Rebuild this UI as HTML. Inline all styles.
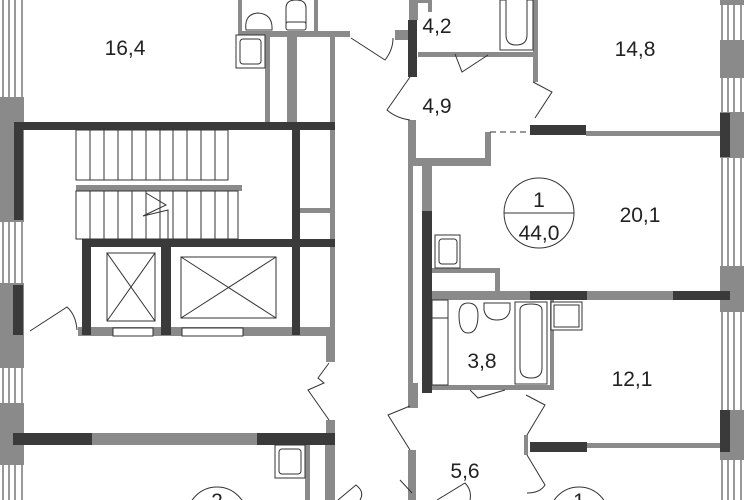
<!DOCTYPE html>
<html><head><meta charset="utf-8"><style>
html,body{margin:0;padding:0;background:#fff;width:744px;height:500px;overflow:hidden}
svg{display:block;overflow:hidden}
text{font-family:"Liberation Sans",sans-serif;fill:#222}
</style></head><body>
<svg width="744" height="500" viewBox="0 0 744 500" xmlns="http://www.w3.org/2000/svg">
<g fill="none" stroke="#333" stroke-width="1">
<line x1="3" y1="0" x2="3" y2="500"/><line x1="9" y1="0" x2="9" y2="500"/><line x1="15" y1="0" x2="15" y2="500"/><line x1="22" y1="0" x2="22" y2="500"/>
<line x1="722" y1="0" x2="722" y2="500"/><line x1="728" y1="0" x2="728" y2="500"/><line x1="734" y1="0" x2="734" y2="500"/><line x1="741" y1="0" x2="741" y2="500"/>
</g>
<g fill="#8a8a8a">
<rect x="0" y="97" width="24" height="125"/>
<rect x="0" y="283" width="24" height="85"/>
<rect x="0" y="403" width="24" height="62"/>
<rect x="720" y="0" width="24" height="5"/>
<rect x="720" y="40" width="24" height="38"/>
<rect x="720" y="112" width="24" height="46"/>
<rect x="720" y="266" width="24" height="46"/>
<rect x="720" y="410" width="24" height="50"/>
<rect x="238" y="0" width="4" height="33"/><rect x="314" y="0" width="4" height="33"/>
<rect x="238" y="31" width="112" height="6"/>
<rect x="265" y="37" width="5" height="85"/><rect x="287" y="37" width="10" height="85"/><rect x="330" y="37" width="5" height="85"/>
<rect x="395" y="30" width="15" height="10"/>
<rect x="330" y="130" width="5" height="205"/>
<rect x="300" y="208" width="35" height="5"/>
<rect x="78" y="327" width="257" height="9"/>
<rect x="326" y="336" width="9" height="26"/>
<rect x="326" y="420" width="9" height="14"/>
<rect x="92" y="433" width="165" height="12"/>
<rect x="305" y="445" width="5" height="55"/><rect x="325" y="445" width="10" height="55"/>
<rect x="76" y="185" width="166" height="6"/>
<rect x="409" y="0" width="9" height="20"/>
<rect x="418" y="0" width="14" height="3"/><rect x="428" y="0" width="4" height="12"/>
<rect x="418" y="52" width="115" height="5"/>
<rect x="533" y="0" width="5" height="82"/>
<rect x="408" y="120" width="8" height="40"/>
<rect x="408" y="158" width="82" height="8"/>
<rect x="485" y="132" width="6" height="34"/>
<rect x="408" y="166" width="5" height="225"/>
<rect x="422" y="166" width="10" height="45"/>
<rect x="586" y="131" width="134" height="5"/>
<rect x="432" y="268" width="65" height="5"/><rect x="495" y="268" width="5" height="25"/>
<rect x="432" y="291" width="98" height="9"/><rect x="587" y="291" width="86" height="9"/>
<rect x="432" y="385" width="118" height="5"/>
<rect x="408" y="383" width="10" height="25"/>
<rect x="408" y="450" width="8" height="50"/>
<rect x="587" y="443" width="133" height="5"/>
<rect x="524" y="435" width="4" height="20"/>
<rect x="550" y="300" width="4" height="90"/>
</g>
<g fill="#3a3a3a">
<rect x="14" y="122" width="321" height="8"/>
<rect x="14" y="130" width="9" height="90"/>
<rect x="292" y="130" width="8" height="205"/>
<rect x="82" y="239" width="253" height="8"/>
<rect x="82" y="247" width="9" height="88"/>
<rect x="161" y="247" width="10" height="88"/>
<rect x="13" y="285" width="10" height="50"/>
<rect x="13" y="433" width="79" height="12"/>
<rect x="257" y="433" width="78" height="12"/>
<rect x="408" y="20" width="9" height="57"/>
<rect x="530" y="125" width="56" height="10"/>
<rect x="720" y="113" width="10" height="44"/>
<rect x="422" y="211" width="10" height="182"/>
<rect x="530" y="291" width="57" height="9"/>
<rect x="673" y="291" width="57" height="9"/>
<rect x="530" y="442" width="57" height="10"/>
<rect x="720" y="410" width="10" height="42"/>
</g>
<g fill="#fff" stroke="#333" stroke-width="1">
<rect x="76" y="130" width="152" height="50"/>
<rect x="76" y="191" width="162" height="48"/>
<rect x="113" y="328" width="40" height="8"/><rect x="182" y="328" width="61" height="8"/>
<rect x="107" y="253" width="48" height="68"/><rect x="181" y="257" width="95" height="61"/>
<rect x="236" y="35" width="29" height="33"/><rect x="240" y="39" width="21" height="25" rx="3"/>
<path d="M246 30 Q244 14 258 13 Q273 14 272 30 Z"/>
<path d="M286 25 L286 8 Q286 0 296 0 Q306 0 306 8 L306 25 Z"/>
<rect x="286" y="22" width="20" height="8" rx="2"/>
<rect x="500" y="0" width="33" height="50"/><path d="M506 0 L506 35 Q506 45 516 45 Q527 45 527 35 L527 0"/>
<rect x="275" y="445" width="30" height="33"/><rect x="279" y="449" width="22" height="25" rx="3"/>
<rect x="435" y="235" width="25" height="33"/><rect x="439" y="239" width="18" height="25" rx="3"/>
<rect x="515" y="302" width="32" height="82"/><path d="M520 310 Q520 304 531 304 Q542 304 542 310 L542 368 Q542 378 531 378 Q520 378 520 368 Z"/>
<rect x="551" y="302" width="31" height="28"/><rect x="554" y="305" width="25" height="22"/>
<path d="M484 303 L510 303 L510 310 Q508 320 497 320 Q486 320 484 310 Z"/>
<path d="M459 315 Q459 303 468 303 Q478 303 478 315 Q478 333 468 333 Q459 333 459 315 Z"/>
<rect x="432" y="300" width="16" height="85"/><line x1="432" y1="318" x2="448" y2="318"/>
</g>
<g stroke="#333" stroke-width="1" fill="none">
<path d="M90 130V180M104 130V180M118 130V180M132 130V180M146 130V180M160 130V180M173 130V180M187 130V180M201 130V180M215 130V180"/>
<path d="M90 191V239M104 191V239M118 191V239M132 191V239M146 191V239M160 191V239M173 191V239M187 191V239M201 191V239M215 191V239M228 191V239"/>
<path d="M146 193 L166 205 L143 216 L168 210 L168 239"/>
<path d="M107 253L155 321M155 253L107 321M181 257L276 318M276 257L181 318"/>
<path d="M30 331 L67 307 Q76 315 77 330"/>
<path d="M329 363 L318 378 L324 383 L308 390 L329 420"/>
<path d="M351 38 L385 60 Q393 50 393 38"/>
<path d="M410 77 L387 110 Q396 118 410 120"/>
<path d="M455 54 L462 72 L488 55"/>
<path d="M533 82 L552 92 L535 118"/>
<path d="M490 132 L530 132" stroke-dasharray="6,4"/>
<path d="M470 390 L478 398 L505 390"/>
<path d="M526 395 L545 405 L527 435"/>
<path d="M527 455 L545 485 Q540 493 527 493"/>
<path d="M410 406 L388 415 L410 450"/>
<path d="M400 480 L412 493"/><path d="M437 500 L465 483 Q472 490 470 500"/>
<path d="M338 500 L356 485 Q365 492 360 500"/>
<circle cx="539" cy="213" r="35"/><line x1="504" y1="213" x2="574" y2="213"/>
<circle cx="217" cy="517" r="30"/><circle cx="579" cy="517" r="30"/>
</g>
<g font-size="21" text-anchor="middle">
<text x="125" y="55">16,4</text>
<text x="437" y="33">4,2</text>
<text x="635" y="56">14,8</text>
<text x="437" y="113">4,9</text>
<text x="640" y="222">20,1</text>
<text x="482" y="368">3,8</text>
<text x="632" y="386">12,1</text>
<text x="465" y="478">5,6</text>
<text x="539" y="207">1</text>
<text x="539" y="240">44,0</text>
<text x="217" y="508">2</text>
<text x="579" y="508">1</text>
</g>
</svg>
</body></html>
